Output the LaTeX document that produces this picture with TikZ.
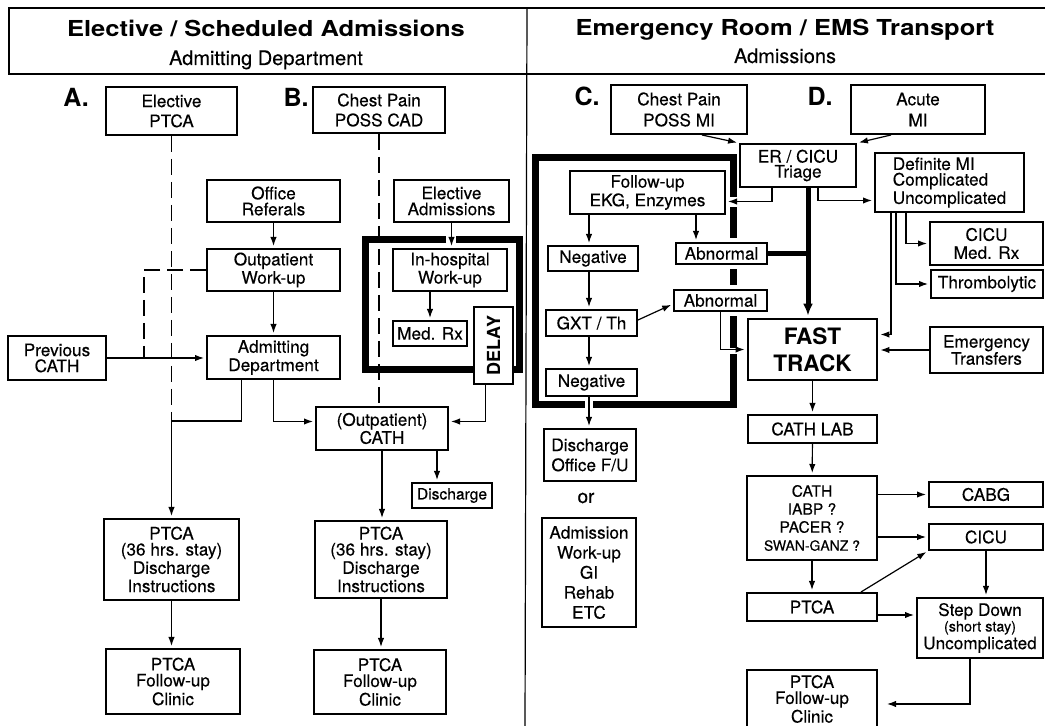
\documentclass[tikz,border=0pt]{standalone}
\usepackage{fontspec}
\setmainfont{TeX Gyre Heros}[UprightFeatures={FakeBold=0.25}]
\usepackage{graphicx}
\usetikzlibrary{arrows.meta,calc}

\begin{document}
\begin{tikzpicture}[x=0.5pt,y=-0.5pt,
  % a box given by its left, top, right and bottom edges
  bb/.style n args={4}{at={({(#1+#3)/2},{(#2+#4)/2})},
                       minimum width={(#3-#1)*0.5pt}, minimum height={(#4-#2)*0.5pt}},
  box/.style={draw, line width=1pt, fill=white, inner sep=0pt, align=center,
              font=\fontsize{8.6}{8}\selectfont},
  lh/.style={font=\fontsize{8.6}{#1}\selectfont},
  halo/.style={preaction={draw=white, line width=5pt}},
  arr/.style={line width=0.6pt, -{Latex[length=4.5pt,width=3.2pt]}, shorten >=1pt},
  link/.style={line width=0.6pt},
  dashline/.style={line width=0.6pt, dash pattern=on 8pt off 3.5pt},
  thickframe/.style={line width=3.5pt},
  whitegap/.style={white, line width=#1},
  heavy/.style={line width=2.5pt},
  heavyarr/.style={line width=2.5pt, -{Latex[length=6pt,width=5pt]}, shorten >=1pt},
  lbl/.style={font=\fontsize{12.5}{13}\bfseries\selectfont, inner sep=0pt, anchor=base},
  ttl/.style={font=\fontsize{11}{12}\bfseries\selectfont, inner sep=0pt, anchor=base},
  sub/.style={font=\fontsize{10}{11}\selectfont, inner sep=0pt, anchor=base}
]
\fill[white] (0,0) rectangle (1045,726);
\useasboundingbox (0,0) rectangle (1045,726);

% ---------- headers ----------
\draw[link] (9,8) rectangle (1060,74);
\draw[link] (527,8) -- (525,727);
\node[ttl] (titleL) at (266,37) {\scalebox{1.16}[1]{Elective / Scheduled Admissions}};
\node[sub] (subL) at (266,65) {Admitting Department};
\node[ttl] (titleR) at (785,36) {\scalebox{1.16}[1]{Emergency Room / EMS Transport}};
\node[sub] (subR) at (785,63) {Admissions};

\node[lbl] (labA) at (76,107) {A.};
\node[lbl] (labB) at (296,107) {B.};
\node[lbl] (labC) at (587,106) {C.};
\node[lbl] (labD) at (820,106) {D.};

% ---------- named junction points ----------
\coordinate (ajoin) at (171.5,421);
\coordinate (dj) at (144,358);
\coordinate (cx) at (589,0);
\coordinate (ax) at (696,0);
\coordinate (m1) at (906,0);
\coordinate (m2) at (896,0);
\coordinate (m3) at (891,0);

% ---------- delay frames ----------
\draw[thickframe] (446,240) -- (365,240) -- (365,370) -- (519,370) -- (519,240) -- (456,240);
\draw[thickframe] (535,158) rectangle (733,405);
\draw[whitegap=5pt] (725,202) -- (741,202);
\draw[whitegap=3pt] (727,351) -- (741,351);
\draw[whitegap=4pt] (589,399) -- (589,412);

% ---------- A / B : elective side ----------
\node[box, lh=10, bb={106}{87}{237}{135}] (eptca) {Elective\\PTCA};
\node[box, lh=10, bb={313}{87}{445}{133}] (cpcad) {Chest Pain\\POSS CAD};
\node[box, bb={207}{180}{340}{222}] (offref) {Office\\Referals};
\node[box, bb={207}{249}{340}{291}] (outwu) {Outpatient\\Work-up};
\node[box, bb={207}{336}{340}{379}] (admdep) {Admitting\\Department};
\node[box, bb={8}{336}{106}{380}] (prevcath) {Previous\\CATH};
\node[box, bb={394}{180}{509}{222}] (eladm) {Elective\\Admissions};
\node[box, bb={393}{249}{507}{291}] (inhosp) {In-hospital\\Work-up};
\node[box, bb={393}{321}{467}{346}] (medrx) {Med. Rx};
\node[box, bb={474}{307}{513}{384}] (delay) {\rotatebox{90}{\fontsize{9}{9}\bfseries\selectfont DELAY}};
\node[box, lh=9, bb={316}{407}{448}{450}] (outcath) {(Outpatient)\\CATH};
\node[box, font=\fontsize{7.8}{8}\selectfont, bb={412}{483}{492}{508}] (disch) {Discharge};
\node[box, bb={104}{519}{239}{600}] (aptca) {PTCA\\(36 hrs. stay)\\Discharge\\Instructions};
\node[box, bb={106}{649}{240}{714}] (afu) {PTCA\\Follow-up\\Clinic};
\node[box, bb={315}{521}{447}{598}] (bptca) {PTCA\\(36 hrs. stay)\\Discharge\\Instructions};
\node[box, bb={314}{650}{446}{714}] (bfu) {PTCA\\Follow-up\\Clinic};

% ---------- C / D : emergency side ----------
\node[box, lh=10.5, bb={611}{85}{747}{134}] (cpmi) {Chest Pain\\POSS MI};
\node[box, lh=10.5, bb={851}{85}{985}{134}] (acmi) {Acute\\MI};
\node[box, lh=7.5, bb={740}{144}{856}{187}] (triage) {ER / CICU\\Triage};
\node[box, lh=7.8, align=left, bb={875}{153}{1024}{212}] (defmi) {Definite MI\\Complicated\\Uncomplicated};
\node[box, bb={570}{171}{725}{214}] (fup) {Follow-up\\EKG, Enzymes};
\node[box, bb={548}{246}{638}{271}] (neg1) {Negative};
\node[box, halo, bb={676}{243}{767}{264}] (abn1) {Abnormal};
\node[box, bb={546}{310}{637}{336}] (gxt) {GXT / Th};
\node[box, halo, bb={674}{290}{767}{311}] (abn2) {Abnormal};
\node[box, bb={546}{369}{637}{396}] (neg2) {Negative};
\node[box, lh=10, bb={544}{429}{636}{481}] (dof) {Discharge\\Office F/U};
\node[font=\fontsize{9.5}{10}\selectfont] (or) at (586,498) {or};
\node[box, lh=10, bb={542}{518}{636}{627}] (admwu) {Admission\\Work-up\\GI\\Rehab\\ETC};
\node[box, lh=9, bb={930}{222}{1043}{265}] (cicumed) {CICU\\Med. Rx};
\node[box, bb={931}{270}{1043}{298}] (thromb) {Thrombolytic};
\node[box, line width=1.4pt, font=\fontsize{11.3}{13.5}\bfseries\selectfont,
      bb={748}{319}{877}{380}] (fast) {FAST\\TRACK};
\node[box, lh=8.5, bb={930}{327}{1043}{373}] (emtr) {Emergency\\Transfers};
\node[box, bb={748}{415}{877}{443}] (cathlab) {CATH LAB};
\node[box, font=\fontsize{7.8}{9}\selectfont, bb={747}{476}{877}{560}] (cathd)
     {CATH\\IABP ?\\PACER ?\\{\fontsize{7}{9}\selectfont SWAN-GANZ ?}};
\node[box, bb={929}{482}{1043}{507}] (cabg) {CABG};
\node[box, bb={929}{524}{1043}{550}] (cicu) {CICU};
\node[box, bb={747}{593}{877}{621}] (ptcad) {PTCA};
\node[box, lh=7.8, bb={917}{598}{1043}{658}] (stepd)
     {Step Down\\{\fontsize{7.2}{7.8}\selectfont (short stay)}\\Uncomplicated};
\node[box, bb={747}{670}{877}{728}] (dfu) {PTCA\\Follow-up\\Clinic};

% ---------- connectors: A ----------
\draw[dashline] (eptca.south) -- (ajoin);
\draw[arr] (ajoin) -- (ajoin |- aptca.north);
\draw[arr] (aptca.south) -- (aptca.south |- afu.north);
\draw[arr] (offref) -- (outwu);
\draw[arr] (outwu) -- (admdep);
\draw[arr] (prevcath) -- (prevcath -| admdep.west);
\draw[dashline] (outwu.west) -| (dj);
\coordinate (ad1) at ([xshift=-16pt]admdep.south);
\draw[link] (ad1) |- (ajoin);
\coordinate (ocw) at ([yshift=3.5pt]outcath.west);
\draw[arr] (admdep.south) |- (ocw);

% ---------- connectors: B ----------
\draw[dashline] (cpcad.south) -- (cpcad.south |- outcath.north);
\draw[arr] (eladm) -- (eladm |- inhosp.north);
\draw[arr] (inhosp.south -| medrx) -- (medrx);
\coordinate (dl) at ([xshift=-4pt]delay.south);
\coordinate (oce) at ([yshift=3.5pt]outcath.east);
\draw[arr] (dl) |- (oce);
\draw[arr] (outcath.south) -- (outcath.south |- bptca.north);
\coordinate (od) at ([xshift=27.5pt]outcath.south);
\draw[arr] (od) -- (od |- disch.north);
\draw[arr] (bptca.south) -- (bptca.south |- bfu.north);

% ---------- connectors: C ----------
\coordinate (c1) at ([xshift=11.5pt]cpmi.south);
\draw[arr] (c1) -- (triage.north west);
\coordinate (c2) at ([xshift=-13.5pt]acmi.south);
\draw[arr] (c2) -- (triage.north east);
\coordinate (t1) at ([xshift=-13pt]triage.south);
\coordinate (fe) at ([yshift=-4.5pt]fup.east);
\draw[arr] (t1) |- (fe);
\draw[arr] (fup.south -| cx) -- (neg1.north -| cx);
\draw[arr] (neg1.south -| cx) -- (gxt.north -| cx);
\draw[arr] (gxt.south -| cx) -- (neg2.north -| cx);
\draw[arr] (neg2.south -| cx) -- (dof.north -| cx);
\draw[arr] (fup.south -| ax) -- (abn1.north -| ax);
\coordinate (g1) at ([yshift=1.5pt]gxt.east);
\coordinate (g2) at ([yshift=-1.75pt]abn2.west);
\draw[arr] (g1) -- (g2);
\draw[arr] (abn2.south) |- (fast.west);

% ---------- connectors: D ----------
\coordinate (t2) at ([xshift=10pt]triage.south);
\coordinate (de) at ([yshift=-9pt]defmi.west);
\draw[arr] (t2) |- (de);
\coordinate (tk) at ([xshift=5pt]triage.south);
\draw[heavyarr] (tk) -- (tk |- fast.north);
\draw[heavy] (abn1.east) -- (abn1.east -| tk);
\draw[arr] (defmi.south -| m1) |- (cicumed.west);
\draw[arr] (defmi.south -| m2) |- (thromb.west);
\coordinate (fe2) at ([yshift=7.5pt]fast.east);
\draw[arr] (defmi.south -| m3) |- (fe2);
\draw[arr] (emtr) -- (emtr -| fast.east);
\draw[arr] (fast) -- (cathlab);
\draw[arr] (cathlab) -- (cathd);
\draw[arr] (cathd.east |- cabg) -- (cabg);
\draw[arr] (cathd.east |- cicu) -- (cicu);
\draw[arr] (cathd) -- (ptcad);
\coordinate (p1) at ([xshift=24.5pt]ptcad.north);
\draw[arr] (p1) -- (cicu.south west);
\coordinate (p2) at ([yshift=-4pt]ptcad.east);
\draw[arr] (p2) -- (p2 -| stepd.west);
\draw[arr] (cicu.south) -- (cicu.south |- stepd.north);
\coordinate (s1) at ([xshift=-5pt]stepd.south);
\coordinate (fu1) at ([yshift=-2.5pt]dfu.east);
\draw[arr, shorten >=4.5pt] (s1) |- (fu1);
\end{tikzpicture}
\end{document}
